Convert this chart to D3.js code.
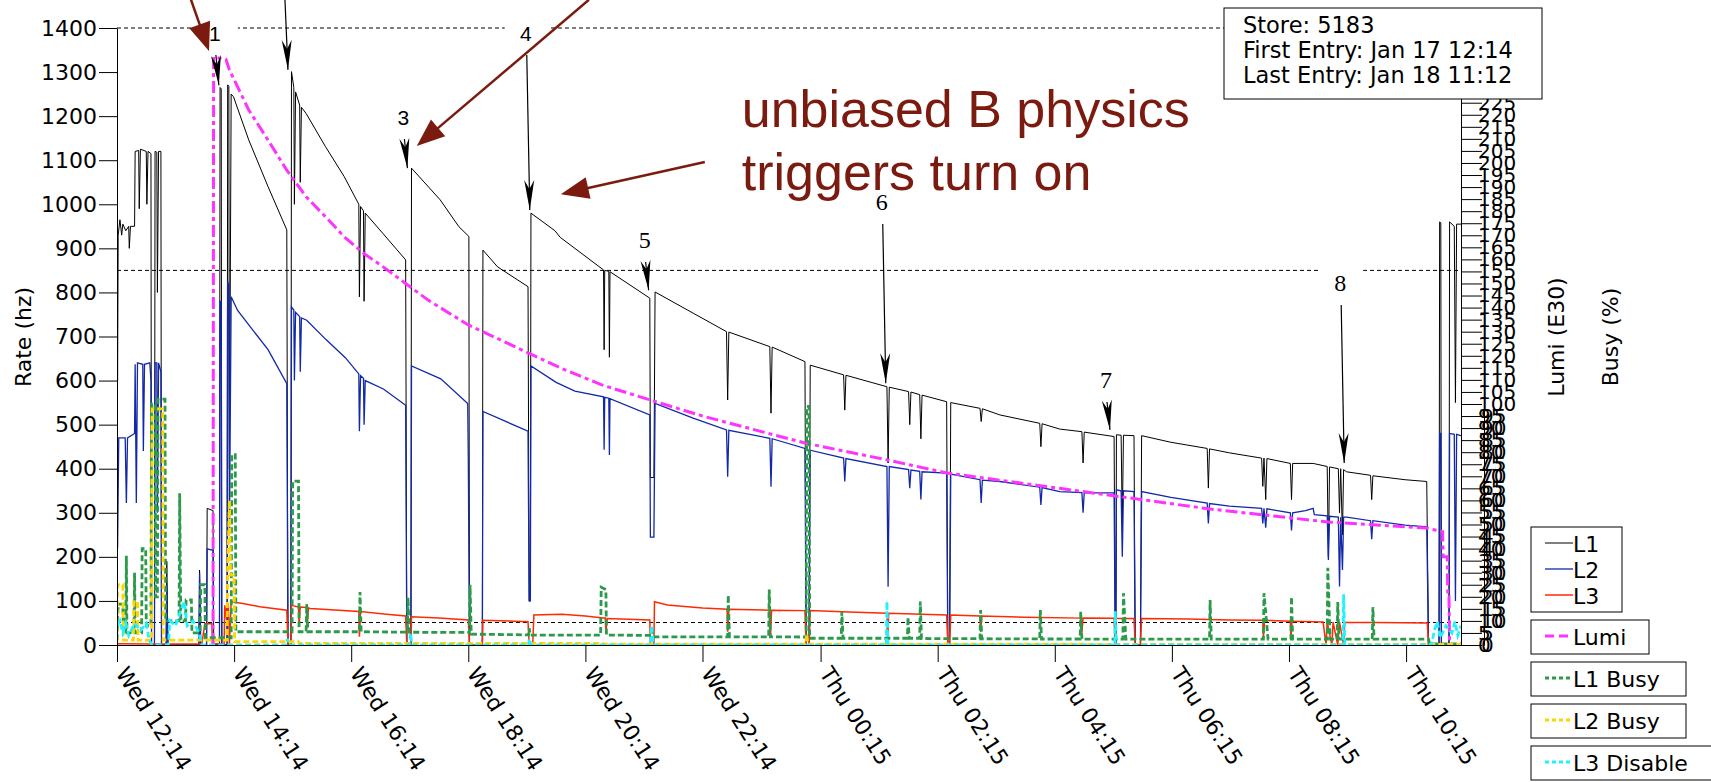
<!DOCTYPE html>
<html>
<head>
<meta charset="utf-8">
<script src="https://cdn.jsdelivr.net/npm/d3@7"></script>
<style>
body { margin:0; background:#fff; }
svg { display:block; }
</style>
</head>
<body>
<script>
// ---- DATA (hours since Wed 12:14, value) ----
var tickHours = [0, 2, 4, 6, 8, 10, 12.017, 14.017, 16.017, 18.017, 20.017, 22.017];
var tickLabels = ["Wed 12:14","Wed 14:14","Wed 16:14","Wed 18:14","Wed 20:14","Wed 22:14",
                  "Thu 00:15","Thu 02:15","Thu 04:15","Thu 06:15","Thu 08:15","Thu 10:15"];
var refRates = [1400, 850, 51];

// L1 rate (hz)
var l1Rate = [
[0,900],[0.01,600],[0.02,930],[0.05,965],[0.08,930],[0.1,955],[0.15,940],[0.2,950],[0.21,900],[0.23,950],[0.3,950],[0.31,1120],[0.37,1122],[0.38,990],[0.4,1125],[0.5,1120],[0.51,1000],[0.53,1120],[0.58,1115],[0.59,0],[0.64,0],[0.65,1120],[0.68,1118],[0.69,800],[0.71,1120],[0.75,1120],[0.76,0],[0.84,0],[0.85,190],[0.87,0],[1.4,0],[1.41,170],[1.43,0],[1.53,0],[1.54,310],[1.64,305],[1.65,0],
[1.75,0],[1.76,1265],[1.78,1262],[1.79,0],[1.88,0],[1.89,1271],[1.91,1268],[1.92,400],[1.95,1250],[1.99,1244],[2.25,1146],[2.58,1040],[2.9,942],[2.92,0],[2.97,0],[2.98,1301],[3.02,1265],[3.03,1000],[3.05,1255],[3.12,1225],[3.13,1050],[3.15,1220],[3.23,1206],[3.56,1131],[3.88,1063],[4.13,1000],[4.14,790],[4.16,995],[4.21,985],[4.22,780],[4.24,980],[4.54,934],[4.93,874],[4.95,0],[5.02,0],[5.03,1082],[5.52,1010],[5.84,949],[6.01,927],[6.02,0],[6.24,0],[6.25,896],[6.5,858],[7.02,813],[7.04,100],[7.06,100],[7.07,980],[7.48,940],[7.57,925],[8.31,851],[8.32,670],[8.33,850],[8.4,848],[8.41,653],[8.42,847],[9.1,787],[9.11,380],[9.17,380],[9.19,801],[9.84,753],[10.41,711],[10.43,556],[10.45,710],[11.15,677],[11.17,526],[11.19,676],[11.75,643],[11.77,0],[11.82,0],[11.84,635],[12.41,613],[12.43,533],[12.45,612],[13.15,586],[13.17,413],[13.19,585],[13.52,575],[13.54,500],[13.56,574],[13.71,568],[13.73,468],[13.75,567],[14.17,552],[14.19,0],[14.22,0],[14.24,550],[14.74,537],[14.76,507],[14.78,536],[15.08,522],[15.76,503],[15.78,450],[15.8,502],[16.1,490],[16.48,484],[16.5,413],[16.52,483],[17.03,473],[17.05,0],[17.06,0],[17.07,477],[17.15,476],[17.17,274],[17.19,476],[17.37,475],[17.39,0],[17.48,0],[17.5,475],[18.0,460],[18.62,446],[18.64,356],[18.66,445],[19.0,436],[19.55,424],[19.57,360],[19.59,424],[19.62,330],[19.64,423],[20.04,412],[20.06,330],[20.08,412],[20.43,412],[20.67,405],[20.69,200],[20.71,404],[20.86,400],[20.88,300],[20.9,400],[20.93,250],[20.95,398],[21.0,393],[21.41,385],[21.43,330],[21.45,384],[22.0,375],[22.37,371],[22.4,0],[22.58,0],[22.59,960],[22.61,958],[22.62,0],[22.75,0],[22.76,960],[22.84,950],[22.86,550],[22.88,955],[22.955,955]
];

// L2 rate (hz)
var l2Rate = [
[0,480],[0.01,220],[0.03,470],[0.14,470],[0.16,322],[0.18,470],[0.3,480],[0.31,637],[0.33,322],[0.35,640],[0.44,637],[0.45,440],[0.47,637],[0.56,640],[0.58,600],[0.59,0],[0.64,0],[0.65,640],[0.68,640],[0.69,300],[0.71,640],[0.75,620],[0.76,0],[0.84,0],[0.85,137],[0.87,0],[1.4,0],[1.41,163],[1.43,0],[1.53,0],[1.54,218],[1.64,215],[1.65,0],
[1.75,0],[1.76,780],[1.78,778],[1.79,0],[1.88,0],[1.89,825],[1.91,815],[1.92,250],[1.95,790],[2.06,759],[2.58,670],[2.9,593],[2.92,0],[2.97,0],[2.98,767],[3.02,760],[3.03,600],[3.05,755],[3.12,745],[3.13,620],[3.15,742],[3.24,737],[3.57,693],[3.9,652],[4.13,615],[4.14,485],[4.16,611],[4.21,605],[4.22,500],[4.24,600],[4.55,581],[4.93,544],[4.95,0],[5.02,0],[5.03,633],[5.53,604],[5.99,548],[6.0,426],[6.02,0],[6.24,0],[6.25,530],[7.02,485],[7.04,100],[7.06,100],[7.07,633],[7.5,596],[7.82,576],[8.31,563],[8.32,443],[8.33,562],[8.4,560],[8.41,431],[8.42,559],[9.1,522],[9.11,245],[9.17,245],[9.19,548],[9.84,515],[10.41,488],[10.43,382],[10.45,487],[11.15,469],[11.17,359],[11.19,468],[11.75,446],[11.77,0],[11.82,0],[11.84,442],[12.41,424],[12.43,371],[12.45,423],[13.15,405],[13.17,132],[13.19,405],[13.52,398],[13.54,356],[13.56,397],[13.71,394],[13.73,330],[13.75,393],[14.17,390],[14.19,0],[14.22,0],[14.24,388],[14.74,375],[14.76,322],[14.78,374],[15.08,371],[15.76,358],[15.78,318],[15.8,357],[16.1,348],[16.48,346],[16.5,300],[16.52,345],[17.03,345],[17.05,0],[17.06,0],[17.07,352],[17.15,350],[17.17,200],[17.19,350],[17.37,348],[17.39,0],[17.48,0],[17.5,348],[18.0,335],[18.62,322],[18.64,276],[18.66,321],[19.0,315],[19.55,310],[19.57,276],[19.59,310],[19.62,266],[19.64,309],[20.04,300],[20.06,260],[20.08,300],[20.3,305],[20.43,310],[20.45,296],[20.67,293],[20.69,193],[20.71,292],[20.86,290],[20.88,133],[20.9,290],[20.93,170],[20.95,290],[21.0,290],[21.41,282],[21.43,240],[21.45,282],[22.0,272],[22.37,268],[22.4,0],[22.58,0],[22.59,480],[22.61,480],[22.62,0],[22.75,0],[22.76,480],[22.84,478],[22.86,100],[22.88,478],[22.955,475]
];

// L3 rate (hz)
var l3Rate = [
[0,3],[0.6,2],[1.45,3],[1.5,48],[1.62,48],[1.63,3],[1.83,3],[1.84,90],[1.87,60],[1.9,95],[1.92,0],[1.95,98],[2.15,94],[2.44,87],[2.9,79],[2.92,0],[2.97,0],[2.98,90],[3.1,86],[3.11,45],[3.13,86],[3.24,85],[3.25,45],[3.27,84],[3.3,83],[4.13,76],[4.14,19],[4.16,76],[4.6,70],[4.93,66],[4.95,0],[5.02,0],[5.03,64],[5.5,61],[6.0,57],[6.02,0],[6.24,0],[6.25,56],[7.02,53],[7.04,0],[7.1,0],[7.12,68],[7.6,70],[8.0,66],[8.3,61],[8.34,61],[8.35,26],[8.37,60],[9.1,57],[9.11,0],[9.17,0],[9.18,98],[9.4,91],[10.0,84],[10.42,81],[10.43,30],[10.45,81],[11.15,79],[11.16,19],[11.18,79],[11.75,78],[11.77,0],[11.82,0],[11.84,78],[12.5,75],[13.15,72],[13.16,0],[13.18,72],[14.17,68],[14.19,0],[14.22,0],[14.24,68],[14.74,66],[14.75,30],[14.77,66],[15.5,63],[16.47,61],[16.48,28],[16.5,61],[17.03,60.5],[17.05,0],[17.06,60],[17.37,60],[17.39,0],[17.48,0],[17.5,60],[18.3,59],[19.0,57],[19.57,56],[19.58,15],[19.6,56],[20.04,54],[20.05,15],[20.07,54],[20.6,52],[20.65,0],[20.67,52],[20.75,0],[20.77,52],[20.85,0],[20.88,52],[20.95,0],[20.97,51],[21.5,51],[22.38,50],[22.4,0],[22.955,2]
];

// Luminosity (E30)
var lumiE30 = [
[1.64,0],[1.65,244],[1.86,243],[1.92,238.6],[2.25,222],[2.58,209.5],[2.9,197],[3.23,186],[3.56,177.7],[3.88,169.4],[4.21,162.5],[4.54,157],[4.93,150],[5.32,143],[6.0,132.8],[7.04,121],[7.57,115],[8.27,108],[9.1,101.7],[10.0,95],[11.75,83.8],[13.15,76.8],[14.17,71.4],[16.1,65],[18.64,56.5],[20.69,51],[22.37,48.5],[22.64,47],[22.65,36.6],[22.72,36.6],[22.73,20],[22.75,20],[22.76,0]
];

// L1 busy (%)
var l1Busy = [
[0,2],[0.02,17],[0.1,17],[0.11,5],[0.15,5],[0.16,37],[0.17,5],[0.29,5],[0.3,30],[0.31,5],[0.42,5],[0.43,40],[0.49,40],[0.5,8],[0.58,8],[0.59,100],[0.65,100],[0.66,20],[0.69,20],[0.7,102],[0.82,102],[0.83,10],[1.06,10],[1.07,63],[1.09,10],[1.17,10],[1.18,18.7],[1.27,18.7],[1.28,5],[1.42,5],[1.43,25],[1.5,25],[1.51,3],[1.95,3],[1.96,79],[2.02,79],[2.03,5.5],[2.99,5.5],[3.0,68],[3.1,68],[3.11,5.5],[3.23,5.5],[3.24,17],[3.26,5.5],[4.14,5.5],[4.15,22],[4.17,5.5],[4.96,5.3],[4.97,19.7],[4.99,5.3],[6.02,5.2],[6.03,25],[6.05,4.5],[7.03,4.2],[7.04,7],[7.06,4.1],[8.26,4.1],[8.27,24],[8.35,23],[8.36,4.1],[9.13,4],[9.14,6],[9.16,3.4],[10.43,3.4],[10.44,20.7],[10.46,3.4],[11.13,3.4],[11.14,23],[11.16,3.4],[11.77,3.3],[11.78,99],[11.82,99],[11.83,2.8],[12.37,2.8],[12.38,13.8],[12.4,2.8],[13.5,2.8],[13.51,11.5],[13.53,2.8],[13.71,2.8],[13.72,18],[13.74,2.7],[14.74,2.6],[14.75,14.5],[14.77,2.6],[15.76,2.5],[15.77,14.5],[15.79,2.5],[16.45,2.5],[16.46,13.8],[16.48,2.4],[17.18,2.4],[17.19,21.5],[17.23,2.4],[18.66,2.4],[18.67,18.7],[18.69,2.4],[19.58,2.4],[19.59,21.5],[19.66,2.4],[20.05,2.4],[20.06,20],[20.08,2.4],[20.67,2.4],[20.68,32],[20.72,2.4],[20.84,2.4],[20.85,17.8],[20.87,2.4],[21.44,2.4],[21.45,15.7],[21.47,2.4],[22.4,2.4],[22.42,0.5],[22.955,0.5]
];

// L2 busy (%)
var l2Busy = [
[0,1],[0.01,25],[0.1,25],[0.11,2],[0.28,2],[0.29,18],[0.35,18],[0.36,2],[0.59,2],[0.6,98],[0.78,98],[0.79,2],[1.88,2],[1.89,30],[1.92,60],[1.94,29],[2.0,29],[2.01,1.4],[3.1,1.4],[3.11,0.7],[8.3,0.7],[8.31,0.4],[11.77,0.4],[11.78,4.6],[11.8,0.4],[16.6,0.3],[22.955,0.3]
];

// L3 disable (%)
var l3Disable = [
[0,8],[0.05,10],[0.1,5],[0.15,9],[0.2,4],[0.3,9],[0.4,6],[0.5,9],[0.55,2],[0.6,0],[0.88,0],[0.9,10],[1.0,8],[1.1,15],[1.15,18],[1.2,8],[1.3,10],[1.4,5],[1.45,0],[2.9,0],[2.91,2.5],[2.94,0],[5.0,0],[5.01,5],[5.04,0],[7.03,0],[7.04,2.5],[7.07,0],[9.12,0],[9.13,8],[9.16,0],[13.14,0],[13.15,18],[13.17,0],[17.04,0],[17.05,14],[17.07,0],[20.94,0],[20.95,21],[20.97,0],[22.45,0],[22.5,6],[22.55,9.7],[22.6,3],[22.7,8],[22.8,5],[22.85,9.7],[22.9,4],[22.955,8]
];

// numbered markers: hour and rate of the arrow tip, label centre height (px)
var markNames = ["1","2","3","4","5","6","7","8"];
var markHours = [1.74, 2.92, 4.96, 7.05, 9.08, 13.13, 16.96, 20.96];
var markRates = [1270, 1305, 1082, 987, 805, 594, 488, 413];
var markLabelY = [33, -40, 117, 33, 240, 202, 380, 283];

// ---- SETUP ----
var W = 1711, H = 782;
var FONT = "DejaVu Sans, sans-serif";
var svg = d3.select("body").append("svg")
  .attr("width", W).attr("height", H)
  .style("background-color", "white");

var x = d3.scaleLinear().domain([0, 22.955]).range([117, 1461]);
var y = d3.scaleLinear().domain([0, 1400]).range([645, 28]);
var yLumi = d3.scaleLinear().domain([0, 256]).range([645, 28]);
var yBusy = d3.scaleLinear().domain([0, 196]).range([645, yLumi(196)]);

svg.append("clipPath").attr("id", "plot")
  .append("rect").attr("x", 117).attr("y", 0).attr("width", 1461 - 117).attr("height", 646);

// dashed reference lines
svg.selectAll(".ref").data(refRates).join("line")
  .attr("x1", x(0)).attr("x2", x(22.955))
  .attr("y1", d => y(d)).attr("y2", d => y(d))
  .attr("stroke", "#000").attr("stroke-width", 1).attr("stroke-dasharray", "4,3");

// white boxes behind the marker numbers (break the dashed lines)
svg.selectAll(".mbox").data(markNames).join("rect")
  .attr("x", (d, i) => x(markHours[i]) - 25).attr("y", (d, i) => markLabelY[i] - 15)
  .attr("width", 44).attr("height", 30).attr("fill", "white");

// ---- SERIES ----
var series = [
  {name: "L1", data: l1Rate, scale: y, color: "#000000", width: 1, dash: null},
  {name: "L2", data: l2Rate, scale: y, color: "#1228a8", width: 1.3, dash: null},
  {name: "L3", data: l3Rate, scale: y, color: "#ff2a00", width: 1.5, dash: null},
  {name: "Lumi", data: lumiE30, scale: yLumi, color: "#ff33ff", width: 3, dash: "12,4,4,4"},
  {name: "L1 Busy", data: l1Busy, scale: yBusy, color: "#2c9a4a", width: 2.8, dash: "6,3"},
  {name: "L2 Busy", data: l2Busy, scale: yBusy, color: "#ffd400", width: 2.8, dash: "6,3"},
  {name: "L3 Disable", data: l3Disable, scale: yBusy, color: "#22f2ff", width: 2.8, dash: "6,3"}
];

var plot = svg.append("g").attr("clip-path", "url(#plot)");
series.forEach(function(s) {
  var line = d3.line().x(d => x(d[0])).y(d => s.scale(d[1]));
  plot.append("path").datum(s.data)
    .attr("d", line)
    .attr("fill", "none")
    .attr("stroke", s.color)
    .attr("stroke-width", s.width)
    .attr("stroke-dasharray", s.dash);
});

// ---- AXES ----
function styleAxis(g, size) {
  g.attr("font-family", null).attr("font-size", null);
  g.selectAll("text").attr("font-family", FONT).attr("font-size", size).attr("fill", "#000");
  g.selectAll("line").attr("stroke", "#000");
  g.select(".domain").attr("stroke", "#000");
}

svg.append("g").attr("transform", "translate(117,0)")
  .call(d3.axisLeft(y).tickValues(d3.range(0, 1401, 100)).tickFormat(d3.format("d"))
    .tickSize(18).tickSizeOuter(0).tickPadding(2))
  .call(g => styleAxis(g, 22));

svg.append("g").attr("transform", "translate(0,645)")
  .call(d3.axisBottom(x).tickValues(tickHours).tickFormat((d, i) => tickLabels[i]).tickSize(17).tickSizeOuter(0))
  .call(g => styleAxis(g, 22))
  .call(g => g.selectAll("text")
    .attr("x", 0).attr("y", 0).attr("dy", "0.35em")
    .attr("text-anchor", "start")
    .attr("transform", "translate(4,24) rotate(57)"));

svg.append("g").attr("transform", "translate(1461,0)")
  .call(d3.axisRight(yLumi).tickValues(d3.range(0, 256, 5)).tickFormat(d3.format("d"))
    .tickSize(21).tickSizeOuter(0).tickPadding(-4))
  .call(g => styleAxis(g, 20));

svg.append("g").attr("transform", "translate(1484,0)")
  .call(d3.axisRight(yBusy).tickValues(d3.range(0, 100, 5)).tickFormat(d3.format("d"))
    .tickSize(0).tickSizeOuter(0).tickPadding(-3))
  .call(g => styleAxis(g, 20));

// axis titles
svg.append("text").attr("transform", "translate(23,337) rotate(-90)")
  .attr("text-anchor", "middle").attr("dominant-baseline", "central")
  .attr("font-family", FONT).attr("font-size", 22).text("Rate (hz)");
svg.append("text").attr("transform", "translate(1556,337) rotate(-90)")
  .attr("text-anchor", "middle").attr("dominant-baseline", "central")
  .attr("font-family", FONT).attr("font-size", 22).text("Lumi (E30)");
svg.append("text").attr("transform", "translate(1610,337) rotate(-90)")
  .attr("text-anchor", "middle").attr("dominant-baseline", "central")
  .attr("font-family", FONT).attr("font-size", 22).text("Busy (%)");

// store info box
var info = ["Store: 5183", "First Entry: Jan 17 12:14", "Last Entry: Jan 18 11:12"];
svg.append("rect").attr("x", 1224).attr("y", 8).attr("width", 318).attr("height", 91)
  .attr("fill", "white").attr("stroke", "#000").attr("stroke-width", 1);
svg.selectAll(".info").data(info).join("text")
  .attr("x", 1243).attr("y", (d, i) => 33 + i * 25)
  .attr("font-family", FONT).attr("font-size", 22.5).text(d => d);

// ---- LEGEND ----
var legendGroups = [[0, 1, 2], [3], [4], [5], [6]];
var legendTop = [527, 620, 662, 704, 746];
var legendW = [91, 118, 155, 155, 190];
legendGroups.forEach(function(items, gi) {
  var top = legendTop[gi];
  svg.append("rect").attr("x", 1531).attr("y", top)
    .attr("width", legendW[gi]).attr("height", items.length > 1 ? 85 : 34)
    .attr("fill", "white").attr("stroke", "#000").attr("stroke-width", 1);
  items.forEach(function(si, k) {
    var s = series[si], ly = top + 16 + k * 26;
    svg.append("line").attr("x1", 1545).attr("x2", 1573).attr("y1", ly).attr("y2", ly)
      .attr("stroke", s.color).attr("stroke-width", s.width)
      .attr("stroke-dasharray", s.name == "Lumi" ? "9,5" : (s.dash ? "4,3" : null));
    svg.append("text").attr("x", 1573).attr("y", ly + 8.5)
      .attr("font-family", FONT).attr("font-size", 22).text(s.name);
  });
});

// ---- NUMBERED ARROWS ----
function head(tx, ty, sx, sy, len, hw, notch) {
  var dx = tx - sx, dy = ty - sy, l = Math.sqrt(dx * dx + dy * dy);
  var ux = dx / l, uy = dy / l, nx = -uy, ny = ux;
  var bx = tx - len * ux, by = ty - len * uy;
  return "M" + tx + "," + ty +
    "L" + (bx + hw * nx) + "," + (by + hw * ny) +
    "L" + (tx - (len - notch) * ux) + "," + (ty - (len - notch) * uy) +
    "L" + (bx - hw * nx) + "," + (by - hw * ny) + "Z";
}
markNames.forEach(function(n, i) {
  var tx = x(markHours[i]), ty = y(markRates[i]);
  var sx = tx - 3, sy = Math.max(markLabelY[i] + 22, 0);
  svg.append("line").attr("x1", sx).attr("y1", sy).attr("x2", tx).attr("y2", ty)
    .attr("stroke", "#000").attr("stroke-width", 1.2);
  svg.append("path").attr("d", head(tx, ty, sx, sy, 30, 5, 9)).attr("fill", "#000");
  if (markLabelY[i] > 0) {
    var serif = i >= 4;
    svg.append("text").attr("x", sx - 1).attr("y", markLabelY[i])
      .attr("text-anchor", "middle").attr("dominant-baseline", "central")
      .attr("font-family", serif ? "Liberation Serif, serif" : "Liberation Sans, sans-serif")
      .attr("font-size", serif ? 24 : 21).text(n);
  }
});

// ---- RED ANNOTATION ----
var noteColor = "#7b1b10";
var noteFrom = [[1.264, 1464], [8.06, 1464], [10.04, 1096]];
var noteTo = [[1.571, 1348], [5.12, 1132], [7.58, 1023]];
noteFrom.forEach(function(p, i) {
  var sx = x(p[0]), sy = y(p[1]), tx = x(noteTo[i][0]), ty = y(noteTo[i][1]);
  var dx = tx - sx, dy = ty - sy, l = Math.sqrt(dx * dx + dy * dy);
  svg.append("line").attr("x1", sx).attr("y1", sy)
    .attr("x2", tx - 20 * dx / l).attr("y2", ty - 20 * dy / l)
    .attr("stroke", noteColor).attr("stroke-width", 2.5);
  svg.append("path").attr("d", head(tx, ty, sx, sy, 28, 11, 0)).attr("fill", noteColor);
});
var noteLines = ["unbiased B physics", "triggers turn on"];
svg.selectAll(".note").data(noteLines).join("text")
  .attr("x", x(10.67)).attr("y", (d, i) => 127 + i * 63)
  .attr("font-family", "Liberation Sans, Arial, sans-serif").attr("font-size", 52)
  .attr("fill", noteColor).text(d => d);
</script>
</body>
</html>
